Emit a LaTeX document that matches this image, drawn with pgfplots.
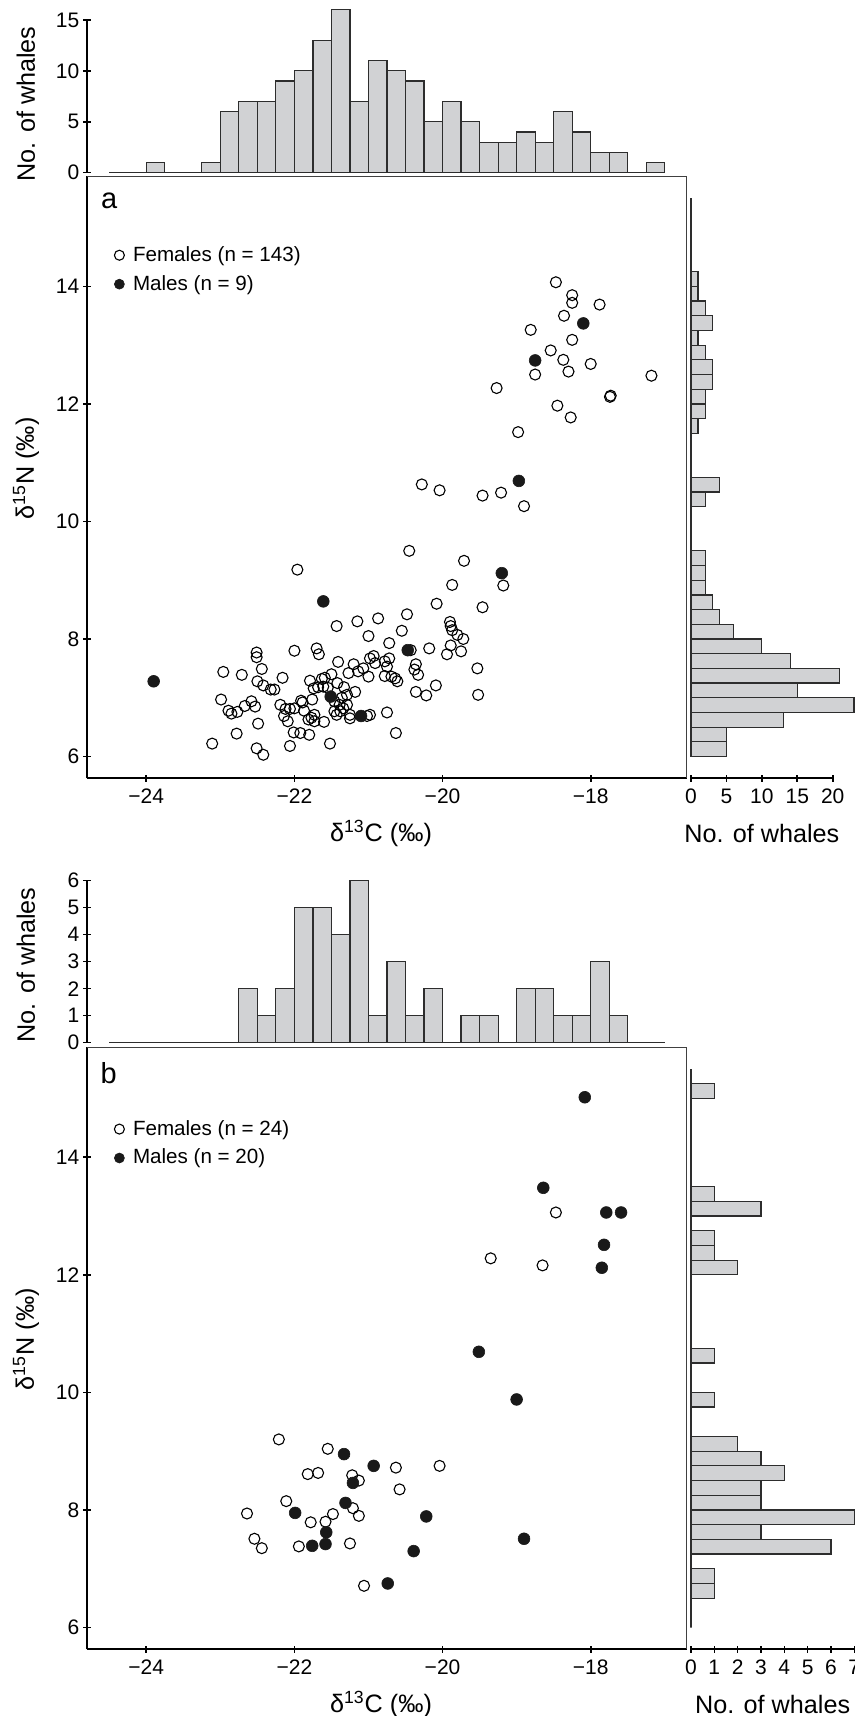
\documentclass[border=0pt]{standalone}
\usepackage{pgfplots}
\pgfplotsset{compat=1.18}
\usepackage{fontspec}
\setmainfont{Liberation Sans}
\definecolor{histgray}{RGB}{209,210,212}
\definecolor{histedge}{RGB}{45,45,45}
\definecolor{dotfill}{RGB}{25,25,25}
\newcommand{\labfont}{\fontsize{12.6}{15}\selectfont}
\pgfplotsset{
  noarrows/.style={axis line style={-},
    every outer x axis line/.append style={-}, every outer y axis line/.append style={-},
    every inner x axis line/.append style={-}, every inner y axis line/.append style={-}},
  base/.style={scale only axis, clip=false,
    /pgf/number format/assume math mode=true,
    tick align=outside, major tick length=3.7pt,
    tick style={black, line width=0.8pt},
    axis line style={-, black, line width=0.8pt},
    tick label style={font=\fontsize{10.5}{12}\selectfont},
    yticklabel style={xshift=1.5pt},
  },
  scat/.style={base, width=300pt, xmin=-24.8, xmax=-16.7, ymin=5.63, ymax=15.87,
    axis x line=bottom, axis y line=left, noarrows,
    xtick={-24,-22,-20,-18}, xticklabels={−24,−22,−20,−18},
    ytick={6,8,10,12,14},
    xlabel={δ\textsuperscript{13}C (‰)}, ylabel={δ\textsuperscript{15}N (‰)},
    every axis x label/.style={at={(axis description cs:0.49,0)}, anchor=center, yshift=-27.5pt, font=\labfont},
    every axis y label/.style={at={(axis description cs:-0.1015,0.515)}, anchor=center, rotate=90, font=\labfont},
    legend cell align=left,
    legend style={draw=none, fill=none, inner sep=0pt, row sep=3.5pt,
      font=\fontsize{10.3}{12}\selectfont, nodes={inner sep=1pt}},
    legend image code/.code={\draw[#1, only marks] plot coordinates {(0pt,0pt)}; \path[draw=none, fill=none] (0pt,0pt) -- (5.8pt,0pt);},
    legend image post style={mark size=2.5pt},
  },
  tophist/.style={base, width=300pt, xmin=-24.8, xmax=-16.7, ymin=0,
    axis x line=none, axis y line=left, noarrows, xtick=\empty,
    ylabel={No. of whales}},
  righthist/.style={base, ymin=5.63, ymax=15.87, xmin=0,
    axis y line=none, axis x line=bottom, noarrows, ytick=\empty,
    xlabel={No. of whales},
    every axis x label/.style={at={(axis description cs:0.5,0)}, anchor=center, yshift=-27.5pt, font=\labfont}},
  hbar/.style={ybar, bar width=0.25, bar shift=0pt, fill=histgray, draw=histedge, line width=0.6pt},
  vbar/.style={xbar, bar width=0.25, bar shift=0pt, fill=histgray, draw=histedge, line width=0.6pt},
  fem/.style={only marks, mark=o, mark size=2.75pt, mark options={line width=0.55pt, draw=black}},
  mal/.style={only marks, mark=*, mark size=2.95pt, mark options={line width=0.3pt, draw=dotfill, fill=dotfill}},
}
\begin{document}
\begin{tikzpicture}[x=1pt,y=1pt]
\path[use as bounding box] (0,0) rectangle (427.5,858);

% ---------------- Panel a: top histogram
\begin{axis}[tophist, at={(43.5pt,771.65pt)}, anchor=south west, height=76.35pt,
  ymax=15, ytick={0,5,10,15},
  every axis y label/.style={at={(axis description cs:-0.102,0.45)}, anchor=center, rotate=90, font=\labfont}]
\addplot[hbar] coordinates {
(-24.375,0) (-24.125,0) (-23.875,1) (-23.625,0) (-23.375,0) (-23.125,1)
(-22.875,6) (-22.625,7) (-22.375,7) (-22.125,9) (-21.875,10) (-21.625,13)
(-21.375,16) (-21.125,7) (-20.875,11) (-20.625,10) (-20.375,9) (-20.125,5)
(-19.875,7) (-19.625,5) (-19.375,3) (-19.125,3) (-18.875,4) (-18.625,3)
(-18.375,6) (-18.125,4) (-17.875,2) (-17.625,2) (-17.375,0) (-17.125,1)};
\end{axis}

% ---------------- Panel a: scatter
\begin{axis}[scat, at={(43.5pt,468.85pt)}, anchor=south west, height=300.9pt,
  legend style={at={(axis description cs:0.045,0.888)}, anchor=north west}]
\addplot[fem] coordinates {
(-18.47,14.07) (-18.25,13.85) (-18.25,13.72) (-17.88,13.69) (-18.36,13.50) (-18.81,13.26)
(-18.25,13.09) (-18.54,12.91) (-18.37,12.75) (-18.00,12.68) (-18.75,12.50) (-18.30,12.55)
(-17.18,12.48) (-19.27,12.27) (-17.74,12.12) (-17.73,12.14) (-18.45,11.97) (-18.27,11.77)
(-18.98,11.52)
(-20.28,10.63) (-20.04,10.53) (-19.46,10.44) (-19.21,10.49) (-18.90,10.26)
(-21.96,9.18) (-21.43,8.22) (-22.51,7.77) (-22.51,7.69) (-22.00,7.80) (-21.70,7.84)
(-21.67,7.74) (-21.41,7.61) (-22.96,7.44) (-22.71,7.39) (-22.44,7.49) (-22.16,7.34)
(-22.50,7.28) (-22.42,7.21) (-22.32,7.14) (-22.27,7.14) (-21.79,7.29) (-21.63,7.32)
(-21.74,7.16) (-22.99,6.97) (-22.89,6.78) (-22.85,6.73) (-22.77,6.76) (-22.67,6.86)
(-22.58,6.94) (-22.53,6.85) (-22.19,6.88) (-22.12,6.81) (-22.06,6.81) (-22.00,6.82)
(-22.14,6.69) (-22.09,6.60) (-21.89,6.92) (-21.87,6.78) (-21.76,6.97) (-21.81,6.63)
(-21.73,6.60) (-21.60,6.59) (-22.49,6.56) (-22.78,6.39) (-22.01,6.41) (-21.92,6.40)
(-21.80,6.37) (-23.11,6.22) (-22.51,6.14) (-22.42,6.03) (-22.06,6.18) (-21.52,6.22)
(-21.61,7.19)
(-20.45,9.50) (-19.71,9.33) (-19.18,8.91) (-19.87,8.92) (-20.08,8.60) (-19.46,8.54)
(-20.48,8.42) (-20.87,8.35) (-21.15,8.30) (-21.00,8.05) (-20.55,8.14) (-20.72,7.93)
(-20.43,7.81) (-20.18,7.84) (-19.90,8.29) (-19.89,8.22) (-19.87,8.15) (-19.80,8.07)
(-19.72,8.00) (-19.89,7.89) (-19.94,7.74) (-19.75,7.79) (-19.53,7.50) (-19.52,7.05)
(-20.09,7.21) (-20.22,7.04) (-20.36,7.10) (-20.36,7.57) (-20.38,7.48) (-20.33,7.39)
(-20.75,6.75) (-20.63,6.40) (-21.18,7.10) (-20.98,7.67) (-20.93,7.71) (-20.91,7.59)
(-20.78,7.62) (-20.72,7.67) (-20.75,7.53) (-20.78,7.37) (-20.69,7.36) (-20.64,7.33)
(-20.61,7.28) (-21.20,7.57) (-21.14,7.45) (-21.07,7.50) (-21.00,7.36) (-21.27,7.42)
(-21.02,6.69) (-20.98,6.71) (-21.25,6.65) (-21.29,7.05) (-21.29,6.88)
(-21.59,7.34) (-21.68,7.18) (-21.55,7.17) (-21.33,7.18) (-21.91,6.95) (-21.77,6.66)
(-21.73,6.71) (-21.46,6.94) (-21.39,6.88) (-21.34,6.82) (-21.46,6.77) (-21.38,6.77)
(-21.43,6.71) (-21.25,6.71) (-21.36,7.00) (-21.42,7.25) (-21.50,7.40)};
\addlegendentry{Females (n = 143)}
\addplot[mal] coordinates {
(-18.10,13.37) (-18.75,12.74) (-18.97,10.69) (-23.90,7.28) (-21.61,8.64)
(-20.47,7.81) (-19.20,9.12) (-21.51,7.02) (-21.10,6.69)};
\addlegendentry{Males (n = 9)}
\draw[line width=0.5pt, black!75] (rel axis cs:0,1) -- (rel axis cs:1,1) -- (rel axis cs:1,0);
\node[anchor=base west, inner sep=0pt, font=\fontsize{14.5}{16}\selectfont] at (rel axis cs:0.023,0.947) {a};
\end{axis}

% ---------------- Panel a: right histogram
\begin{axis}[righthist, at={(345.5pt,468.85pt)}, anchor=south west, width=70.85pt, height=300.9pt,
  xmax=20, xtick={0,5,10,15,20}]
\addplot[vbar] coordinates {
(5,6.125) (5,6.375) (13,6.625) (23,6.875) (15,7.125) (21,7.375) (14,7.625) (10,7.875)
(6,8.125) (4,8.375) (3,8.625) (2,8.875) (2,9.125) (2,9.375)
(0,9.625) (0,9.875) (0,10.125) (2,10.375) (4,10.625) (0,10.875) (0,11.125) (0,11.375)
(1,11.625) (2,11.875) (2,12.125) (3,12.375) (3,12.625) (2,12.875) (1,13.125) (3,13.375)
(2,13.625) (1,13.875) (1,14.125) (0,14.375) (0,14.625) (0,14.875) (0,15.125) (0,15.375)};
\end{axis}

% ---------------- Panel b: top histogram
\begin{axis}[tophist, at={(43.5pt,336.65pt)}, anchor=south west, height=81pt,
  ymax=6, ytick={0,1,2,3,4,5,6},
  every axis y label/.style={at={(axis description cs:-0.102,0.48)}, anchor=center, rotate=90, font=\labfont}]
\addplot[hbar] coordinates {
(-24.375,0) (-24.125,0) (-23.875,0) (-23.625,0) (-23.375,0) (-23.125,0)
(-22.875,0) (-22.625,2) (-22.375,1) (-22.125,2) (-21.875,5) (-21.625,5)
(-21.375,4) (-21.125,6) (-20.875,1) (-20.625,3) (-20.375,1) (-20.125,2)
(-19.875,0) (-19.625,1) (-19.375,1) (-19.125,0) (-18.875,2) (-18.625,2)
(-18.375,1) (-18.125,1) (-17.875,3) (-17.625,1) (-17.375,0) (-17.125,0)};
\end{axis}

% ---------------- Panel b: scatter
\begin{axis}[scat, at={(43.5pt,33.35pt)}, anchor=south west, height=301pt,
  legend style={at={(axis description cs:0.045,0.883)}, anchor=north west}]
\addplot[fem] coordinates {
(-18.47,13.06) (-19.35,12.28) (-18.65,12.16) (-22.21,9.20) (-21.55,9.04) (-20.63,8.72)
(-20.04,8.75) (-21.82,8.61) (-21.68,8.63) (-21.22,8.59) (-21.13,8.50) (-20.58,8.35)
(-22.11,8.15) (-21.21,8.03) (-22.64,7.94) (-21.48,7.93) (-21.13,7.90) (-21.78,7.79)
(-21.58,7.80) (-22.54,7.51) (-22.44,7.35) (-21.94,7.38) (-21.25,7.43) (-21.06,6.71)};
\addlegendentry{Females (n = 24)}
\addplot[mal] coordinates {
(-18.08,15.02) (-18.64,13.48) (-17.79,13.06) (-17.59,13.06) (-17.82,12.51) (-17.85,12.12)
(-19.51,10.69) (-19.00,9.88) (-21.33,8.95) (-20.93,8.75) (-21.21,8.46) (-21.31,8.12)
(-21.99,7.95) (-20.22,7.89) (-21.57,7.62) (-21.58,7.42) (-21.76,7.39) (-18.90,7.51)
(-20.39,7.30) (-20.74,6.75)};
\addlegendentry{Males (n = 20)}
\draw[line width=0.5pt, black!75] (rel axis cs:0,1) -- (rel axis cs:1,1) -- (rel axis cs:1,0);
\node[anchor=base west, inner sep=0pt, font=\fontsize{14.5}{16}\selectfont] at (rel axis cs:0.022,0.940) {b};
\end{axis}

% ---------------- Panel b: right histogram
\begin{axis}[righthist, at={(345.5pt,33.35pt)}, anchor=south west, width=81.65pt, height=301pt,
  xmax=7, xtick={0,1,2,3,4,5,6,7}]
\addplot[vbar] coordinates {
(0,6.125) (0,6.375) (1,6.625) (1,6.875) (0,7.125) (6,7.375) (3,7.625) (7,7.875)
(3,8.125) (3,8.375) (4,8.625) (3,8.875) (2,9.125) (0,9.375) (0,9.625) (1,9.875)
(0,10.125) (0,10.375) (1,10.625) (0,10.875) (0,11.125) (0,11.375) (0,11.625) (0,11.875)
(2,12.125) (1,12.375) (1,12.625) (0,12.875) (3,13.125) (1,13.375) (0,13.625) (0,13.875)
(0,14.125) (0,14.375) (0,14.625) (0,14.875) (1,15.125) (0,15.375)};
\end{axis}
\end{tikzpicture}
\end{document}
